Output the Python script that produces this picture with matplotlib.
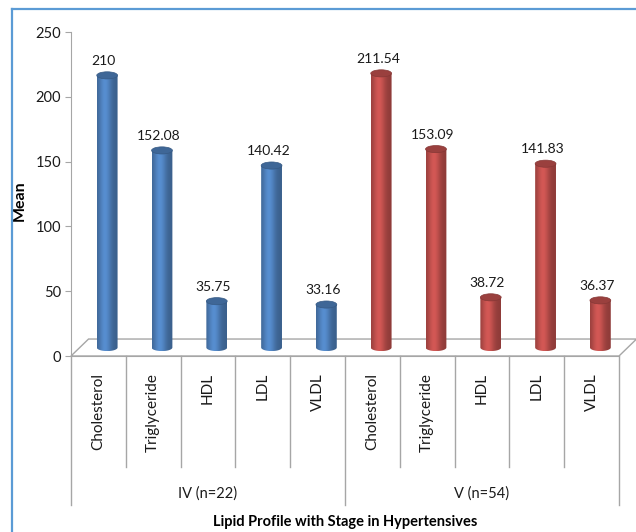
import numpy as np
import matplotlib
matplotlib.use("Agg")
import matplotlib.pyplot as plt
from matplotlib.patches import Ellipse, Polygon, PathPatch
from matplotlib.path import Path
from matplotlib.colors import to_rgb
from matplotlib.lines import Line2D

plt.rcParams['font.family'] = ['Lato', 'DejaVu Sans']

# data
categories = ['Cholesterol', 'Triglyceride', 'HDL', 'LDL', 'VLDL']
groups = ['IV (n=22)', 'V (n=54)']
stage_iv = [210, 152.08, 35.75, 140.42, 33.16]
stage_v = [211.54, 153.09, 38.72, 141.83, 36.37]
group_colors = ['#4F81BD', '#C0504D']

# 3D look parameters (data units)
bar_w = 0.38
ell_h = 5.5          # height of the cylinder caps
depth_x, depth_y = 0.32, 13.1   # floor depth
off_x, off_y = depth_x / 2, depth_y / 2

fig = plt.figure(figsize=(6.36, 5.32), dpi=100)
ax = fig.add_axes([71 / 636, (532 - 356) / 532, (619 - 71) / 636, (356 - 32) / 532])

n_cat = len(categories)
n_all = n_cat * len(groups)

# floor
floor = Polygon([(-0.5, 0), (n_all - 0.5, 0), (n_all - 0.5 + depth_x, depth_y),
                 (-0.5 + depth_x, depth_y)], closed=True, facecolor='white',
                edgecolor='#A6A6A6', lw=1, clip_on=False, zorder=1)
ax.add_patch(floor)


def shade(rgb, n=80):
    t = np.linspace(0, 1, n)
    f = 0.74 + 0.36 * np.exp(-((t - 0.38) / 0.3) ** 2)
    arr = np.clip(np.outer(f, rgb), 0, 1)
    return arr[np.newaxis, :, :]


def cylinder(xc, val, color):
    rgb = np.array(to_rgb(color))
    a = bar_w / 2
    b = ell_h / 2
    yb = off_y
    yt = val + off_y
    th = np.linspace(np.pi, 2 * np.pi, 40)
    pts = [(xc + a * np.cos(t), yb + b * np.sin(t)) for t in th]
    pts += [(xc + a, yt), (xc - a, yt), pts[0]]
    codes = [Path.MOVETO] + [Path.LINETO] * (len(pts) - 2) + [Path.CLOSEPOLY]
    clip = PathPatch(Path(pts, codes), transform=ax.transData, facecolor='none',
                     edgecolor='none')
    ax.add_patch(clip)
    im = ax.imshow(shade(rgb), extent=(xc - a, xc + a, yb - b, yt), aspect='auto',
                   interpolation='bilinear', zorder=3)
    im.set_clip_path(clip)
    cap = Ellipse((xc, yt), bar_w, ell_h, facecolor=np.clip(rgb * 0.8, 0, 1),
                  edgecolor=np.clip(rgb * 0.7, 0, 1), lw=0.5, zorder=4)
    ax.add_patch(cap)
    ax.annotate(f'{val:g}', xy=(xc - 0.06, yt + b), xytext=(0, 5),
                textcoords='offset points', ha='center', va='baseline',
                fontsize=10, color='#1a1a1a', zorder=5)


for g, vals in enumerate([stage_iv, stage_v]):
    for i, v in enumerate(vals):
        cylinder(g * n_cat + i + off_x, v, group_colors[g])

ax.set_xlim(-0.5, n_all - 0.5)
ax.set_ylim(0, 250)
ax.set_yticks([0, 50, 100, 150, 200, 250])
ax.set_xticks([])
for s in ['top', 'right']:
    ax.spines[s].set_visible(False)
for s in ['left', 'bottom']:
    ax.spines[s].set_color('#A6A6A6')
ax.tick_params(axis='y', direction='out', length=4, color='#A6A6A6',
               labelsize=10.5, labelcolor='#1a1a1a', pad=3)
ax.set_ylabel('Mean', fontsize=11.5, fontweight='bold')
ax.yaxis.set_label_coords(-0.08, 0.48)
ax.patch.set_visible(False)

# category axis below
xt = ax.get_xaxis_transform()
for k in range(n_all + 1):
    low = -0.46 if k % n_cat == 0 else -0.343
    ax.plot([k - 0.5, k - 0.5], [0, low], transform=xt, color='#A6A6A6', lw=1,
            clip_on=False)
for g in range(len(groups)):
    for i, c in enumerate(categories):
        ax.text(g * n_cat + i, -0.052, c, transform=xt, rotation=90, ha='center',
                va='top', fontsize=11, color='#1a1a1a')
    ax.text(g * n_cat + (n_cat - 1) / 2, -0.423, groups[g], transform=xt,
            ha='center', va='center', fontsize=10.5, color='#1a1a1a')
ax.text((n_all - 1) / 2, -0.512, 'Lipid Profile with Stage in Hypertensives',
        transform=xt, ha='center', va='center', fontsize=10.5, fontweight='bold')

# blue frame
fx, fy = 12 / 636, (532 - 9) / 532
fig.add_artist(Line2D([fx, fx], [0, fy], color='#5B9BD5', lw=1.6))
fig.add_artist(Line2D([fx, 1], [fy, fy], color='#5B9BD5', lw=1.6))

fig.savefig('out.png', dpi=100)
